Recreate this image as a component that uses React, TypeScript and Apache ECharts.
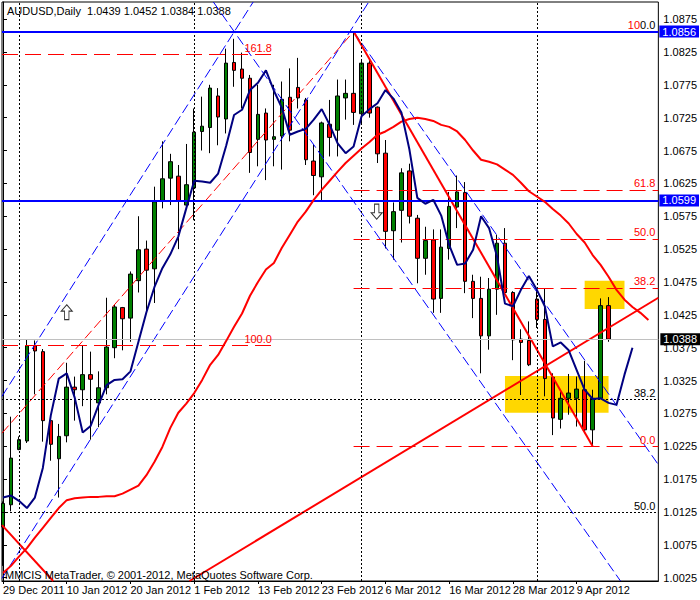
import React, { useEffect, useRef } from "react";
import * as echarts from "echarts";

const FONT = "'Liberation Sans Narrow', 'Liberation Sans', Arial, sans-serif";

const titleText = "AUDUSD,Daily  1.0439 1.0452 1.0384 1.0388";
const copyrightText = "MMCIS MetaTrader, \u00a9 2001-2012, MetaQuotes Software Corp.";

const tickBars = [0, 8, 16, 24, 32, 40, 48, 56, 64, 72];
const tickDates = ["29 Dec 2011", "10 Jan 2012", "20 Jan 2012", "1 Feb 2012", "13 Feb 2012", "23 Feb 2012", "6 Mar 2012", "16 Mar 2012", "28 Mar 2012", "9 Apr 2012"];
const priceTicks = [1.0025, 1.0075, 1.0125, 1.0175, 1.0225, 1.0275, 1.0325, 1.0375, 1.0425, 1.0475, 1.0525, 1.0575, 1.0625, 1.0675, 1.0725, 1.0775, 1.0825, 1.0875];

const opens = [
  1.0102, 1.0136, 1.0220, 1.0233, 1.0378, 1.0369, 1.0264, 1.0206, 1.0241, 1.0315,
  1.0311, 1.0334, 1.0291, 1.0314, 1.0375, 1.0436, 1.0420, 1.0477, 1.0525, 1.0495,
  1.0599, 1.0633, 1.0636, 1.0592, 1.0618, 1.0704, 1.0710, 1.0758, 1.0723, 1.0809,
  1.0799, 1.0785, 1.0692, 1.0732, 1.0692, 1.0697, 1.0756, 1.0771, 1.0752, 1.0659,
  1.0635, 1.0715, 1.0706, 1.0755, 1.0762, 1.0731, 1.0808, 1.0741, 1.0671, 1.0553,
  1.0584, 1.0644, 1.0572, 1.0511, 1.0539, 1.0450, 1.0526, 1.0589, 1.0611, 1.0476,
  1.0450, 1.0393, 1.0464, 1.0534, 1.0459, 1.0388, 1.0386, 1.0449, 1.0418, 1.0330,
  1.0266, 1.0298, 1.0298, 1.0311, 1.0250, 1.0298, 1.0439,
];
const highs = [
  1.0141, 1.0270, 1.0240, 1.0387, 1.0386, 1.0373, 1.0272, 1.0259, 1.0352, 1.0331,
  1.0379, 1.0369, 1.0339, 1.0451, 1.0440, 1.0437, 1.0491, 1.0575, 1.0538, 1.0620,
  1.0689, 1.0670, 1.0653, 1.0685, 1.0739, 1.0757, 1.0775, 1.0770, 1.0830, 1.0845,
  1.0824, 1.0790, 1.0775, 1.0739, 1.0775, 1.0780, 1.0800, 1.0816, 1.0755, 1.0684,
  1.0719, 1.0752, 1.0783, 1.0783, 1.0856, 1.0812, 1.0814, 1.0742, 1.0691, 1.0596,
  1.0648, 1.0655, 1.0577, 1.0559, 1.0555, 1.0555, 1.0612, 1.0637, 1.0627, 1.0486,
  1.0483, 1.0481, 1.0547, 1.0557, 1.0461, 1.0403, 1.0415, 1.0465, 1.0465, 1.0336,
  1.0308, 1.0335, 1.0331, 1.0355, 1.0311, 1.0450, 1.0452,
];
const lows = [
  1.0043, 1.0126, 1.0219, 1.0230, 1.0304, 1.0232, 1.0203, 1.0147, 1.0231, 1.0264,
  1.0286, 1.0235, 1.0254, 1.0304, 1.0359, 1.0371, 1.0384, 1.0459, 1.0427, 1.0443,
  1.0587, 1.0592, 1.0525, 1.0590, 1.0569, 1.0675, 1.0671, 1.0683, 1.0701, 1.0772,
  1.0739, 1.0641, 1.0651, 1.0630, 1.0651, 1.0646, 1.0689, 1.0739, 1.0653, 1.0607,
  1.0599, 1.0666, 1.0666, 1.0722, 1.0714, 1.0714, 1.0725, 1.0656, 1.0526, 1.0509,
  1.0535, 1.0564, 1.0473, 1.0486, 1.0428, 1.0428, 1.0509, 1.0557, 1.0458, 1.0420,
  1.0336, 1.0372, 1.0425, 1.0458, 1.0356, 1.0303, 1.0347, 1.0405, 1.0301, 1.0242,
  1.0252, 1.0273, 1.0255, 1.0245, 1.0225, 1.0297, 1.0384,
];
const closes = [
  1.0138, 1.0207, 1.0235, 1.0378, 1.0370, 1.0264, 1.0228, 1.0240, 1.0315, 1.0311,
  1.0334, 1.0327, 1.0314, 1.0376, 1.0437, 1.0419, 1.0487, 1.0524, 1.0493, 1.0597,
  1.0632, 1.0658, 1.0599, 1.0623, 1.0703, 1.0712, 1.0770, 1.0726, 1.0808, 1.0797,
  1.0785, 1.0672, 1.0730, 1.0691, 1.0696, 1.0753, 1.0706, 1.0755, 1.0661, 1.0637,
  1.0717, 1.0695, 1.0758, 1.0762, 1.0733, 1.0808, 1.0732, 1.0670, 1.0552, 1.0582,
  1.0641, 1.0575, 1.0511, 1.0538, 1.0449, 1.0528, 1.0590, 1.0612, 1.0476, 1.0450,
  1.0393, 1.0464, 1.0534, 1.0459, 1.0387, 1.0383, 1.0349, 1.0418, 1.0328, 1.0268,
  1.0298, 1.0306, 1.0312, 1.0250, 1.0298, 1.0439, 1.0388,
];

// fast moving average (navy), drawn shifted forward 3 bars
const blueMA = [
  1.0147, 1.0150, 1.0142, 1.0131, 1.0147, 1.0192, 1.0272, 1.0328, 1.0336, 1.0299,
  1.0246, 1.0256, 1.0288, 1.0318, 1.0326, 1.0327, 1.0339, 1.0384, 1.0429, 1.0467,
  1.0496, 1.0517, 1.0544, 1.0587, 1.0629, 1.0628, 1.0626, 1.0640, 1.0682, 1.0729,
  1.0737, 1.0767, 1.0778, 1.0797, 1.0766, 1.0740, 1.0699, 1.0704, 1.0708, 1.0722,
  1.0738, 1.0714, 1.0686, 1.0671, 1.0681, 1.0727, 1.0738, 1.0747, 1.0767, 1.0754,
  1.0733, 1.0677, 1.0603, 1.0594, 1.0600, 1.0576, 1.0531, 1.0501, 1.0503, 1.0524,
  1.0575, 1.0557, 1.0514, 1.0442, 1.0438, 1.0463, 1.0484, 1.0463, 1.0438, 1.0377,
  1.0383, 1.0371, 1.0341, 1.0311, 1.0297, 1.0298, 1.0291, 1.0288, 1.0334, 1.0375,
];
// slow moving average (red), drawn shifted forward 5 bars
const redMA = [
  1.0032, 1.0043, 1.0057, 1.0070, 1.0086, 1.0101, 1.0116, 1.0131, 1.0143, 1.0146,
  1.0147, 1.0148, 1.0148, 1.0149, 1.0149, 1.0153, 1.0159, 1.0165, 1.0181, 1.0201,
  1.0224, 1.0253, 1.0276, 1.0290, 1.0306, 1.0326, 1.0349, 1.0364, 1.0385, 1.0407,
  1.0427, 1.0454, 1.0475, 1.0494, 1.0504, 1.0527, 1.0547, 1.0567, 1.0582, 1.0600,
  1.0615, 1.0629, 1.0643, 1.0656, 1.0667, 1.0678, 1.0688, 1.0699, 1.0704, 1.0711,
  1.0719, 1.0723, 1.0725, 1.0723, 1.0720, 1.0714, 1.0711, 1.0704, 1.0691, 1.0675,
  1.0661, 1.0658, 1.0654, 1.0646, 1.0638, 1.0626, 1.0613, 1.0605, 1.0597, 1.0586,
  1.0576, 1.0564, 1.0548, 1.0535, 1.0516, 1.0501, 1.0483, 1.0463, 1.0448, 1.0437,
  1.0428, 1.0417,
];

// trend lines: [bar, price] end points
const redDashRise = [[-0.125, 1.0245], [44, 1.0856]];
const blueUpperRise = [[-0.125, 1.0301], [31.4, 1.0901]];
const blueLowerRise = [[-0.125, 1.0024], [45.9, 1.0901]];
const blueLowerFall = [[26.4, 1.0901], [77.5, 1.002]];
const blueUpperFall = [[44, 1.0856], [82.25, 1.0197]];
const redFall = [[44, 1.0856], [74, 1.0225]];
const redRise = [[23.4, 1.002], [82.25, 1.0451]];
const redFallLeft = [[-0.125, 1.0105], [6.3, 1.002]];

// horizontal levels
const blueLevels = [1.0856, 1.0599];
const bidPrice = 1.0388;
const leftFibLevels = [1.0821, 1.0379];
const leftFibLabels = ["161.8", "100.0"];
const rightFibLevels = [1.0856, 1.0615, 1.05405, 1.0466, 1.0225];
const rightFibLabels = ["100.0", "61.8", "50.0", "38.2", "0.0"];
const blackFibLevels = [1.0856, 1.02967, 1.0124];
const blackFibLabels = ["0.0", "38.2", "50.0"];
const verticalBars = [2, 24, 45, 67];

const yellowBoxes = [
  [[63, 1.0332], [76, 1.0276]],
  [[73, 1.0477], [78, 1.0434]],
];
const upArrow = [[8, 1.0429]];
const downArrow = [[46.9, 1.0582]];

const X_MIN = -0.125;
const X_MAX = 82.25;

export default function App() {
  const ref = useRef<HTMLDivElement>(null);
  useEffect(() => {
    if (!ref.current) return;
    const chart = echarts.init(ref.current, undefined, { renderer: "svg" });

    const candleData = opens.map((o, i) => [i, o, closes[i], lows[i], highs[i]]);
    const seg = (name: string, data: number[][], color: string, width: number, type: any, z = 4) => ({
      name,
      type: "line",
      data,
      symbol: "none",
      silent: true,
      z,
      lineStyle: { color, width, type },
    });

    const lbl = (text: string, color: string) => ({
      show: true,
      position: "insideEndTop",
      formatter: text,
      color,
      fontSize: 11,
      fontFamily: FONT,
      distance: [3, 1],
    });

    const markLineData: any[] = [];
    verticalBars.forEach((b) => {
      markLineData.push({ xAxis: b, lineStyle: { color: "#000", width: 1, type: [2, 2] }, label: { show: false } });
    });
    blackFibLevels.forEach((v, k) => {
      markLineData.push([
        { coord: [X_MIN, v], lineStyle: { color: "#000", width: 1, type: [2, 2] }, label: k === 0 ? { show: false } : lbl(blackFibLabels[k], "#000") },
        { coord: [X_MAX, v] },
      ]);
    });
    leftFibLevels.forEach((v, k) => {
      markLineData.push([
        { coord: [X_MIN, v], lineStyle: { color: "#f00", width: 1, type: [16, 7] }, label: { ...lbl(leftFibLabels[k], "#f00"), distance: [0, 1] } },
        { coord: [33.75, v] },
      ]);
    });
    markLineData.push({
      yAxis: bidPrice,
      lineStyle: { color: "#C0C0C0", width: 1, type: "solid" },
      label: { show: true, position: "end", formatter: bidPrice.toFixed(4), color: "#fff", backgroundColor: "#000", padding: [1, 3, 0, 3], fontSize: 11, fontFamily: FONT, distance: 2 },
    });
    rightFibLevels.forEach((v, k) => {
      const label: any = lbl(rightFibLabels[k], "#f00");
      if (k === 0) {
        // red fib 100.0 shares its level with the black fib 0.0: red "10" + black "0.0"
        label.formatter = "{r|10}{k|" + blackFibLabels[0] + "}";
        label.rich = {
          r: { color: "#f00", fontSize: 11, fontFamily: FONT },
          k: { color: "#000", fontSize: 11, fontFamily: FONT },
        };
      }
      markLineData.push([
        { coord: [44, v], lineStyle: { color: "#f00", width: 1, type: [16, 7] }, label },
        { coord: [X_MAX, v] },
      ]);
    });
    blueLevels.forEach((v) => {
      markLineData.push({
        yAxis: v,
        lineStyle: { color: "#0000FF", width: 2, type: "solid" },
        label: { show: true, position: "end", formatter: v.toFixed(4), color: "#fff", backgroundColor: "#0000FF", padding: [1, 3, 0, 3], fontSize: 11, fontFamily: FONT, distance: 1 },
      });
    });

    const option: any = {
      animation: false,
      backgroundColor: "#fff",
      textStyle: { fontFamily: FONT },
      grid: { left: 2, right: 39, top: 2, bottom: 19, show: true, borderColor: "#000", borderWidth: 1, backgroundColor: "#fff" },
      xAxis: {
        type: "value",
        min: X_MIN,
        max: X_MAX,
        axisLine: { show: true, lineStyle: { color: "#000" } },
        axisTick: { show: true, customValues: tickBars, length: 3, lineStyle: { color: "#000" } },
        axisLabel: {
          show: true,
          customValues: tickBars,
          formatter: (v: number) => tickDates[tickBars.indexOf(Math.round(v))] ?? "",
          align: "left",
          margin: 3,
          color: "#000",
          fontSize: 11,
          fontFamily: FONT,
        },
        splitLine: { show: false },
      },
      yAxis: {
        type: "value",
        position: "right",
        min: 1.002,
        max: 1.0901,
        axisLine: { show: true, lineStyle: { color: "#000" } },
        axisTick: { show: true, customValues: priceTicks, length: 4, lineStyle: { color: "#000" } },
        axisLabel: {
          show: true,
          customValues: priceTicks,
          formatter: (v: number) => v.toFixed(4),
          margin: 5,
          color: "#000",
          fontSize: 11,
          fontFamily: FONT,
        },
        splitLine: { show: false },
      },
      graphic: [
        { type: "text", left: 7, top: 5, silent: true, style: { text: titleText, fill: "#000", font: `11px ${FONT}` } },
        { type: "text", left: 5, top: 569, silent: true, z: 100, style: { text: copyrightText, fill: "#000", font: `11px ${FONT}` } },
      ],
      series: [
        {
          name: "boxes",
          type: "line",
          data: [],
          z: 1,
          silent: true,
          markArea: {
            silent: true,
            itemStyle: { color: "#FFD700", opacity: 1 },
            data: yellowBoxes.map((b) => [{ coord: b[0] }, { coord: b[1] }]),
          },
        },
        {
          name: "levels",
          type: "line",
          data: [],
          z: 3,
          silent: true,
          markLine: { symbol: ["none", "none"], precision: 6, silent: true, animation: false, data: markLineData },
        },
        {
          name: "AUDUSD",
          type: "candlestick",
          data: candleData,
          encode: { x: 0, y: [1, 2, 3, 4] },
          barWidth: 4,
          z: 2,
          silent: true,
          itemStyle: { color: "#008000", color0: "#FF0000", borderColor: "#000", borderColor0: "#000", borderWidth: 1 },
        },
        seg("redDashRise", redDashRise, "#FF0000", 1, [10, 4]),
        seg("blueUpperRise", blueUpperRise, "#0000FF", 1, [10, 4]),
        seg("blueLowerRise", blueLowerRise, "#0000FF", 1, [10, 4]),
        seg("blueLowerFall", blueLowerFall, "#0000FF", 1, [10, 4]),
        seg("blueUpperFall", blueUpperFall, "#0000FF", 1, [10, 4]),
        seg("redFall", redFall, "#FF0000", 2, "solid"),
        seg("redRise", redRise, "#FF0000", 2, "solid"),
        seg("redFallLeft", redFallLeft, "#FF0000", 2, "solid"),
        seg("redMA", redMA.map((v, i) => [i, v]), "#FF0000", 2, "solid", 5),
        seg("blueMA", blueMA.map((v, i) => [i, v]), "#000080", 2, "solid", 5),
        {
          name: "up",
          type: "scatter",
          data: upArrow,
          symbol: "path://M5,0L10,6L7,6L7,14L3,14L3,6L0,6Z",
          symbolSize: [11, 15],
          z: 6,
          silent: true,
          itemStyle: { color: "#fff", borderColor: "#000", borderWidth: 1 },
        },
        {
          name: "down",
          type: "scatter",
          data: downArrow,
          symbol: "path://M3,0L7,0L7,8L10,8L5,14L0,8L3,8Z",
          symbolSize: [11, 15],
          z: 6,
          silent: true,
          itemStyle: { color: "#fff", borderColor: "#000", borderWidth: 1 },
        },
      ],
    };
    chart.setOption(option);
    return () => chart.dispose();
  }, []);
  return <div ref={ref} style={{ width: 700, height: 600, position: "absolute", left: 0, top: 0 }} />;
}
